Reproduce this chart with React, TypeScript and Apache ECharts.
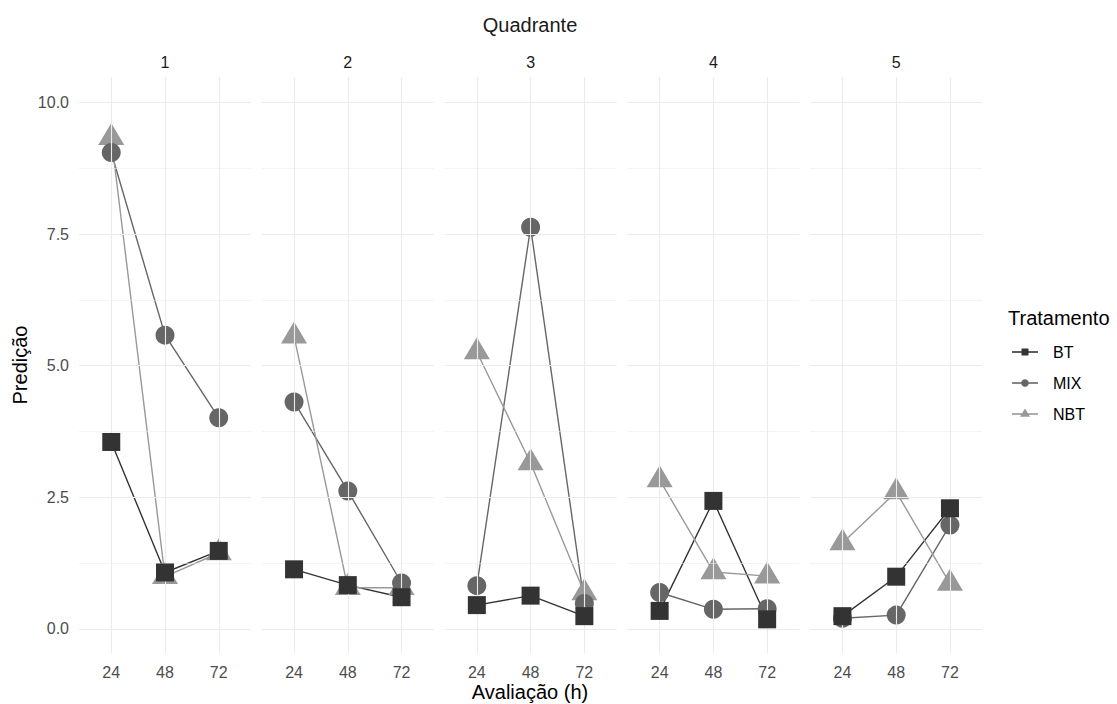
import React, { useEffect, useRef } from "react";
import * as echarts from "echarts";

const hours = ["24", "48", "72"];
const quadrants = ["1", "2", "3", "4", "5"];
const treatments = ["BT", "MIX", "NBT"];
const btValues = [
  [3.55, 1.07, 1.48],
  [1.13, 0.83, 0.6],
  [0.45, 0.63, 0.24],
  [0.34, 2.43, 0.18],
  [0.24, 0.99, 2.29],
];
const mixValues = [
  [9.05, 5.58, 4.01],
  [4.31, 2.62, 0.87],
  [0.82, 7.63, 0.48],
  [0.69, 0.37, 0.38],
  [0.2, 0.26, 1.97],
];
const nbtValues = [
  [9.33, 0.99, 1.44],
  [5.56, 0.78, 0.78],
  [5.26, 3.15, 0.68],
  [2.83, 1.08, 1.0],
  [1.63, 2.6, 0.86],
];
const yTicks = [0, 2.5, 5, 7.5, 10];
const yMinor = [1.25, 3.75, 6.25, 8.75];

const FONT = "'Liberation Sans', Arial, sans-serif";
const colors: Record<string, string> = { BT: "#333333", MIX: "#666666", NBT: "#999999" };
const symbols: Record<string, any> = {
  BT: { symbol: "rect", size: 18, offset: [0, 0] },
  MIX: { symbol: "circle", size: 19, offset: [0, 0] },
  NBT: { symbol: "triangle", size: [26, 22], offset: [0, -3.7] },
};
const valuesByTreatment: Record<string, number[][]> = { BT: btValues, MIX: mixValues, NBT: nbtValues };

export default function App() {
  const ref = useRef<HTMLDivElement>(null);
  useEffect(() => {
    if (!ref.current) return;
    const chart = echarts.init(ref.current, null, { renderer: "svg" });
    const panelLeft0 = 79;
    const panelStep = 182.8;
    const panelWidth = 172;
    const top = 77;
    const height = 576;

    const grids: any[] = [];
    const xAxes: any[] = [];
    const yAxes: any[] = [];
    const series: any[] = [];
    const graphic: any[] = [];

    quadrants.forEach((q, i) => {
      const left = panelLeft0 + i * panelStep;
      grids.push({ left, top, width: panelWidth, height, containLabel: false });
      xAxes.push({
        type: "value",
        gridIndex: i,
        min: -0.6,
        max: 2.6,
        axisLine: { show: false },
        axisTick: { show: false, customValues: [0, 1, 2] },
        splitLine: { show: false },
        axisLabel: {
          customValues: [0, 1, 2],
          formatter: (v: number) => hours[Math.round(v)] ?? "",
          color: "#4d4d4d",
          fontSize: 16,
          fontFamily: FONT,
          margin: 11,
        },
      });
      yAxes.push({
        type: "value",
        gridIndex: i,
        min: -0.46,
        max: 10.485,
        axisLine: { show: false },
        axisTick: { show: false, customValues: yTicks },
        splitLine: { show: false },
        axisLabel: {
          show: i === 0,
          customValues: yTicks,
          formatter: (v: number) => v.toFixed(1),
          color: "#4d4d4d",
          fontSize: 16,
          fontFamily: FONT,
          margin: 10,
        },
      });
      const gl: any[] = [];
      yTicks.forEach((v) => gl.push({ yAxis: v, lineStyle: { width: 1.1 } }));
      yMinor.forEach((v) => gl.push({ yAxis: v, lineStyle: { width: 0.55 } }));
      [0, 1, 2].forEach((v) => gl.push({ xAxis: v, lineStyle: { width: 1.1 } }));
      series.push({
        type: "line",
        xAxisIndex: i,
        yAxisIndex: i,
        data: [],
        z: 0,
        silent: true,
        markLine: {
          silent: true,
          symbol: ["none", "none"],
          label: { show: false },
          lineStyle: { color: "#ebebeb", type: "solid" },
          emphasis: { disabled: true },
          data: gl,
          animation: false,
        },
      });
      treatments.forEach((t) => {
        series.push({
          type: "line",
          name: t,
          xAxisIndex: i,
          yAxisIndex: i,
          data: valuesByTreatment[t][i].map((v, k) => [k, v]),
          showSymbol: false,
          symbol: "none",
          lineStyle: { color: colors[t], width: 1.4 },
          z: 2,
          silent: true,
        });
      });
      ["NBT", "MIX", "BT"].forEach((t, zi) => {
        series.push({
          type: "scatter",
          name: t,
          xAxisIndex: i,
          yAxisIndex: i,
          data: valuesByTreatment[t][i].map((v, k) => [k, v]),
          symbol: symbols[t].symbol,
          symbolSize: symbols[t].size,
          symbolOffset: symbols[t].offset,
          itemStyle: { color: colors[t], opacity: 1 },
          z: 3 + zi,
          silent: true,
        });
      });
      graphic.push({
        type: "text",
        x: left + panelWidth / 2,
        y: 62,
        style: { text: q, font: `16px ${FONT}`, fill: "#1a1a1a", align: "center", verticalAlign: "middle" },
      });
    });

    graphic.push(
      {
        type: "text",
        x: 530,
        y: 25,
        style: { text: "Quadrante", font: `20px ${FONT}`, fill: "#1a1a1a", align: "center", verticalAlign: "middle" },
      },
      {
        type: "text",
        x: 530,
        y: 692,
        style: { text: "Avaliação (h)", font: `20px ${FONT}`, fill: "#000", align: "center", verticalAlign: "middle" },
      },
      {
        type: "text",
        x: 20,
        y: 365,
        rotation: Math.PI / 2,
        style: { text: "Predição", font: `20px ${FONT}`, fill: "#000", align: "center", verticalAlign: "middle" },
      },
      {
        type: "text",
        x: 1008,
        y: 318,
        style: { text: "Tratamento", font: `20px ${FONT}`, fill: "#000", align: "left", verticalAlign: "middle" },
      }
    );

    const legendX = 1012;
    const legendY0 = 352;
    const legendStep = 31;
    treatments.forEach((t, k) => {
      const cy = legendY0 + k * legendStep;
      graphic.push({
        type: "line",
        shape: { x1: legendX, y1: cy, x2: legendX + 26, y2: cy },
        style: { stroke: colors[t], lineWidth: 1.6 },
      });
      if (t === "BT") {
        graphic.push({ type: "rect", shape: { x: legendX + 13 - 3.5, y: cy - 3.5, width: 7, height: 7 }, style: { fill: colors[t] } });
      } else if (t === "MIX") {
        graphic.push({ type: "circle", shape: { cx: legendX + 13, cy, r: 3.8 }, style: { fill: colors[t] } });
      } else {
        graphic.push({
          type: "polygon",
          shape: { points: [[legendX + 13, cy - 5.5], [legendX + 18, cy + 2.8], [legendX + 8, cy + 2.8]] },
          style: { fill: colors[t] },
        });
      }
      graphic.push({
        type: "text",
        x: legendX + 41,
        y: cy,
        style: { text: t, font: `16px ${FONT}`, fill: "#000", align: "left", verticalAlign: "middle" },
      });
    });

    chart.setOption({
      animation: false,
      backgroundColor: "#ffffff",
      textStyle: { fontFamily: FONT },
      grid: grids,
      xAxis: xAxes,
      yAxis: yAxes,
      series,
      graphic,
    });
    return () => chart.dispose();
  }, []);
  return <div ref={ref} style={{ position: "absolute", left: 0, top: 0, width: 1117, height: 704 }} />;
}
